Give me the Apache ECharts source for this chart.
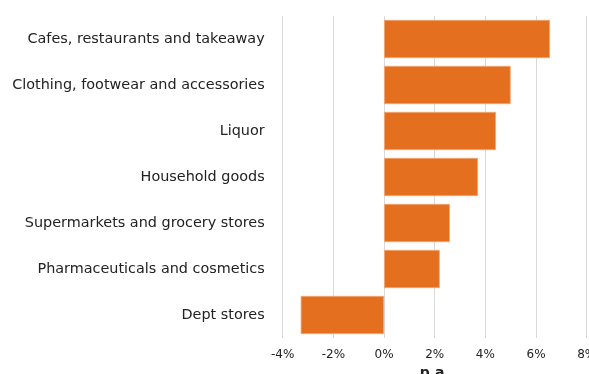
<!DOCTYPE html>
<html><head><meta charset="utf-8">
<script src="https://cdn.jsdelivr.net/npm/echarts@6/dist/echarts.min.js"></script>
<style>html,body{margin:0;padding:0;background:#fff}#c{width:589px;height:374px}</style>
</head><body><div id="c"></div>
<script>
const categories = ["Cafes, restaurants and takeaway","Clothing, footwear and accessories","Liquor","Household goods","Supermarkets and grocery stores","Pharmaceuticals and cosmetics","Dept stores"];
const values = [6.55, 5.0, 4.42, 3.71, 2.6, 2.2, -3.29];
const xTicks = [-4, -2, 0, 2, 4, 6, 8];
const chart = echarts.init(document.getElementById('c'));
chart.setOption({
  animation: false,
  grid: {left: 282.7, right: 2.3, top: 16, bottom: 36, outerBoundsMode: 'none', containLabel: false},
  xAxis: {
    type: 'value', min: xTicks[0], max: xTicks[xTicks.length-1], interval: 2,
    name: 'p.a.', nameLocation: 'middle', nameGap: 24,
    nameTextStyle: {fontFamily: 'DejaVu Sans', fontSize: 14, fontWeight: 'bold', color: '#222'},
    axisLine: {show: false}, axisTick: {show: false},
    axisLabel: {formatter: v => v + '%', fontFamily: 'DejaVu Sans', fontSize: 12, color: '#222', margin: 11, showMaxLabel: true},
    splitLine: {show: true, lineStyle: {color: '#d9d9d9', width: 1}}
  },
  yAxis: {
    type: 'category', data: categories, inverse: true,
    axisLine: {show: false}, axisTick: {show: false},
    axisLabel: {fontFamily: 'DejaVu Sans', fontSize: 14.4, color: '#222', margin: 18}
  },
  series: [{
    type: 'bar', data: values, barCategoryGap: '17%',
    itemStyle: {color: '#E4701F', borderColor: '#F2A774', borderWidth: 0.8}
  }]
});
</script></body></html>
